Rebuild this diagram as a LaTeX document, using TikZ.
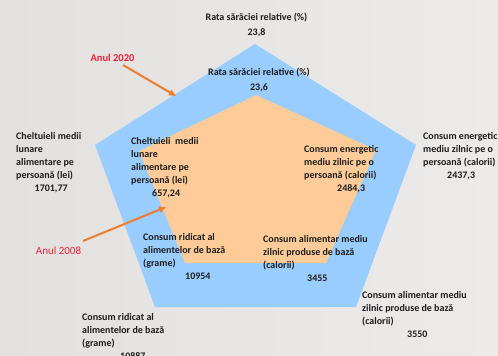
\documentclass[tikz,border=0pt]{standalone}
\usepackage{fontspec}
\setmainfont{Carlito}
\usetikzlibrary{arrows.meta}
\definecolor{bgL}{HTML}{E2E1DF}
\definecolor{bgR}{HTML}{ECEBE9}
\definecolor{blueP}{HTML}{99CCFF}
\definecolor{orangeP}{HTML}{FFCC99}
\definecolor{txt}{HTML}{1E1E1E}
\definecolor{redL}{HTML}{F0203A}
\definecolor{arrowC}{HTML}{ED7D31}
\tikzset{
  lbl/.style={anchor=north west, inner sep=0pt, align=left, text=txt,
    font=\fontsize{10}{13}\selectfont\bfseries},
  toplbl/.style={anchor=north, inner sep=0pt, align=center, text=txt,
    font=\fontsize{10}{15}\selectfont\bfseries},
  yearlbl/.style={inner sep=0pt, text=redL},
  yeararrow/.style={draw=arrowC, line width=2pt, -{Triangle[length=7pt,width=6pt]}},
}
\begin{document}
\begin{tikzpicture}[x=1pt,y=-1pt]
\useasboundingbox (0,0) rectangle (498,356);
\clip (0,0) rectangle (498,356);
\shade[left color=bgL, right color=bgR] (0,0) rectangle (498,356);
% pentagons
\fill[blueP] (255,44) -- (416,145) -- (356,307) -- (155,307) -- (95,145) -- cycle;
\fill[orangeP] (256,95) -- (376,150) -- (326,263) -- (185,263) -- (139,151) -- cycle;
% top labels
\node[toplbl] (toOut) at (256.5,13) {Rata sărăciei relative (\%)\\23,8};
\node[toplbl] (toIn) at (259,68) {Rata sărăciei relative (\%)\\23,6};
% left labels
\node[lbl] (leOut) at (16,132) {Cheltuieli medii\\lunare\\alimentare pe\\persoană (lei)\\\hspace*{18.5pt}1701,77};
\node[lbl] (leIn) at (131,137) {Cheltuieli\ \ medii\\lunare\\alimentare pe\\persoană (lei)\\\hspace*{21pt}657,24};
% right labels
\node[lbl] (riIn) at (304,145) {Consum energetic\\mediu zilnic pe o\\persoană (calorii)\\\hspace*{33pt}2484,3};
\node[lbl] (riOut) at (423,132) {Consum energetic\\mediu zilnic pe o\\persoană (calorii)\\\hspace*{24pt}2437,3};
% bottom labels
\node[lbl] (blIn) at (143,233) {Consum ridicat al\\alimentelor de bază\\(grame)\\\hspace*{42pt}10954};
\node[lbl] (brIn) at (263,235) {Consum alimentar mediu\\zilnic produse de bază\\(calorii)\\\hspace*{44pt}3455};
\node[lbl] (brOut) at (362,291) {Consum alimentar mediu\\zilnic produse de bază\\(calorii)\\\hspace*{45pt}3550};
\node[lbl] (blOut) at (82,313) {Consum ridicat al\\alimentelor de bază\\(grame)\\\hspace*{38pt}10887};
% year labels and arrows
\node[yearlbl, font=\fontsize{10.5}{12}\selectfont\bfseries] (y2020) at (112.5,58) {Anul 2020};
\node[yearlbl, font=\fontsize{11}{13}\selectfont] (y2008) at (58.5,251) {Anul 2008};
\coordinate (a20s) at (123,65);
\coordinate (a20e) at (176,96);
\coordinate (a08s) at (83,241);
\coordinate (a08e) at (166,207);
\draw[yeararrow] (a20s) -- (a20e);
\draw[yeararrow] (a08s) -- (a08e);
\end{tikzpicture}
\end{document}
